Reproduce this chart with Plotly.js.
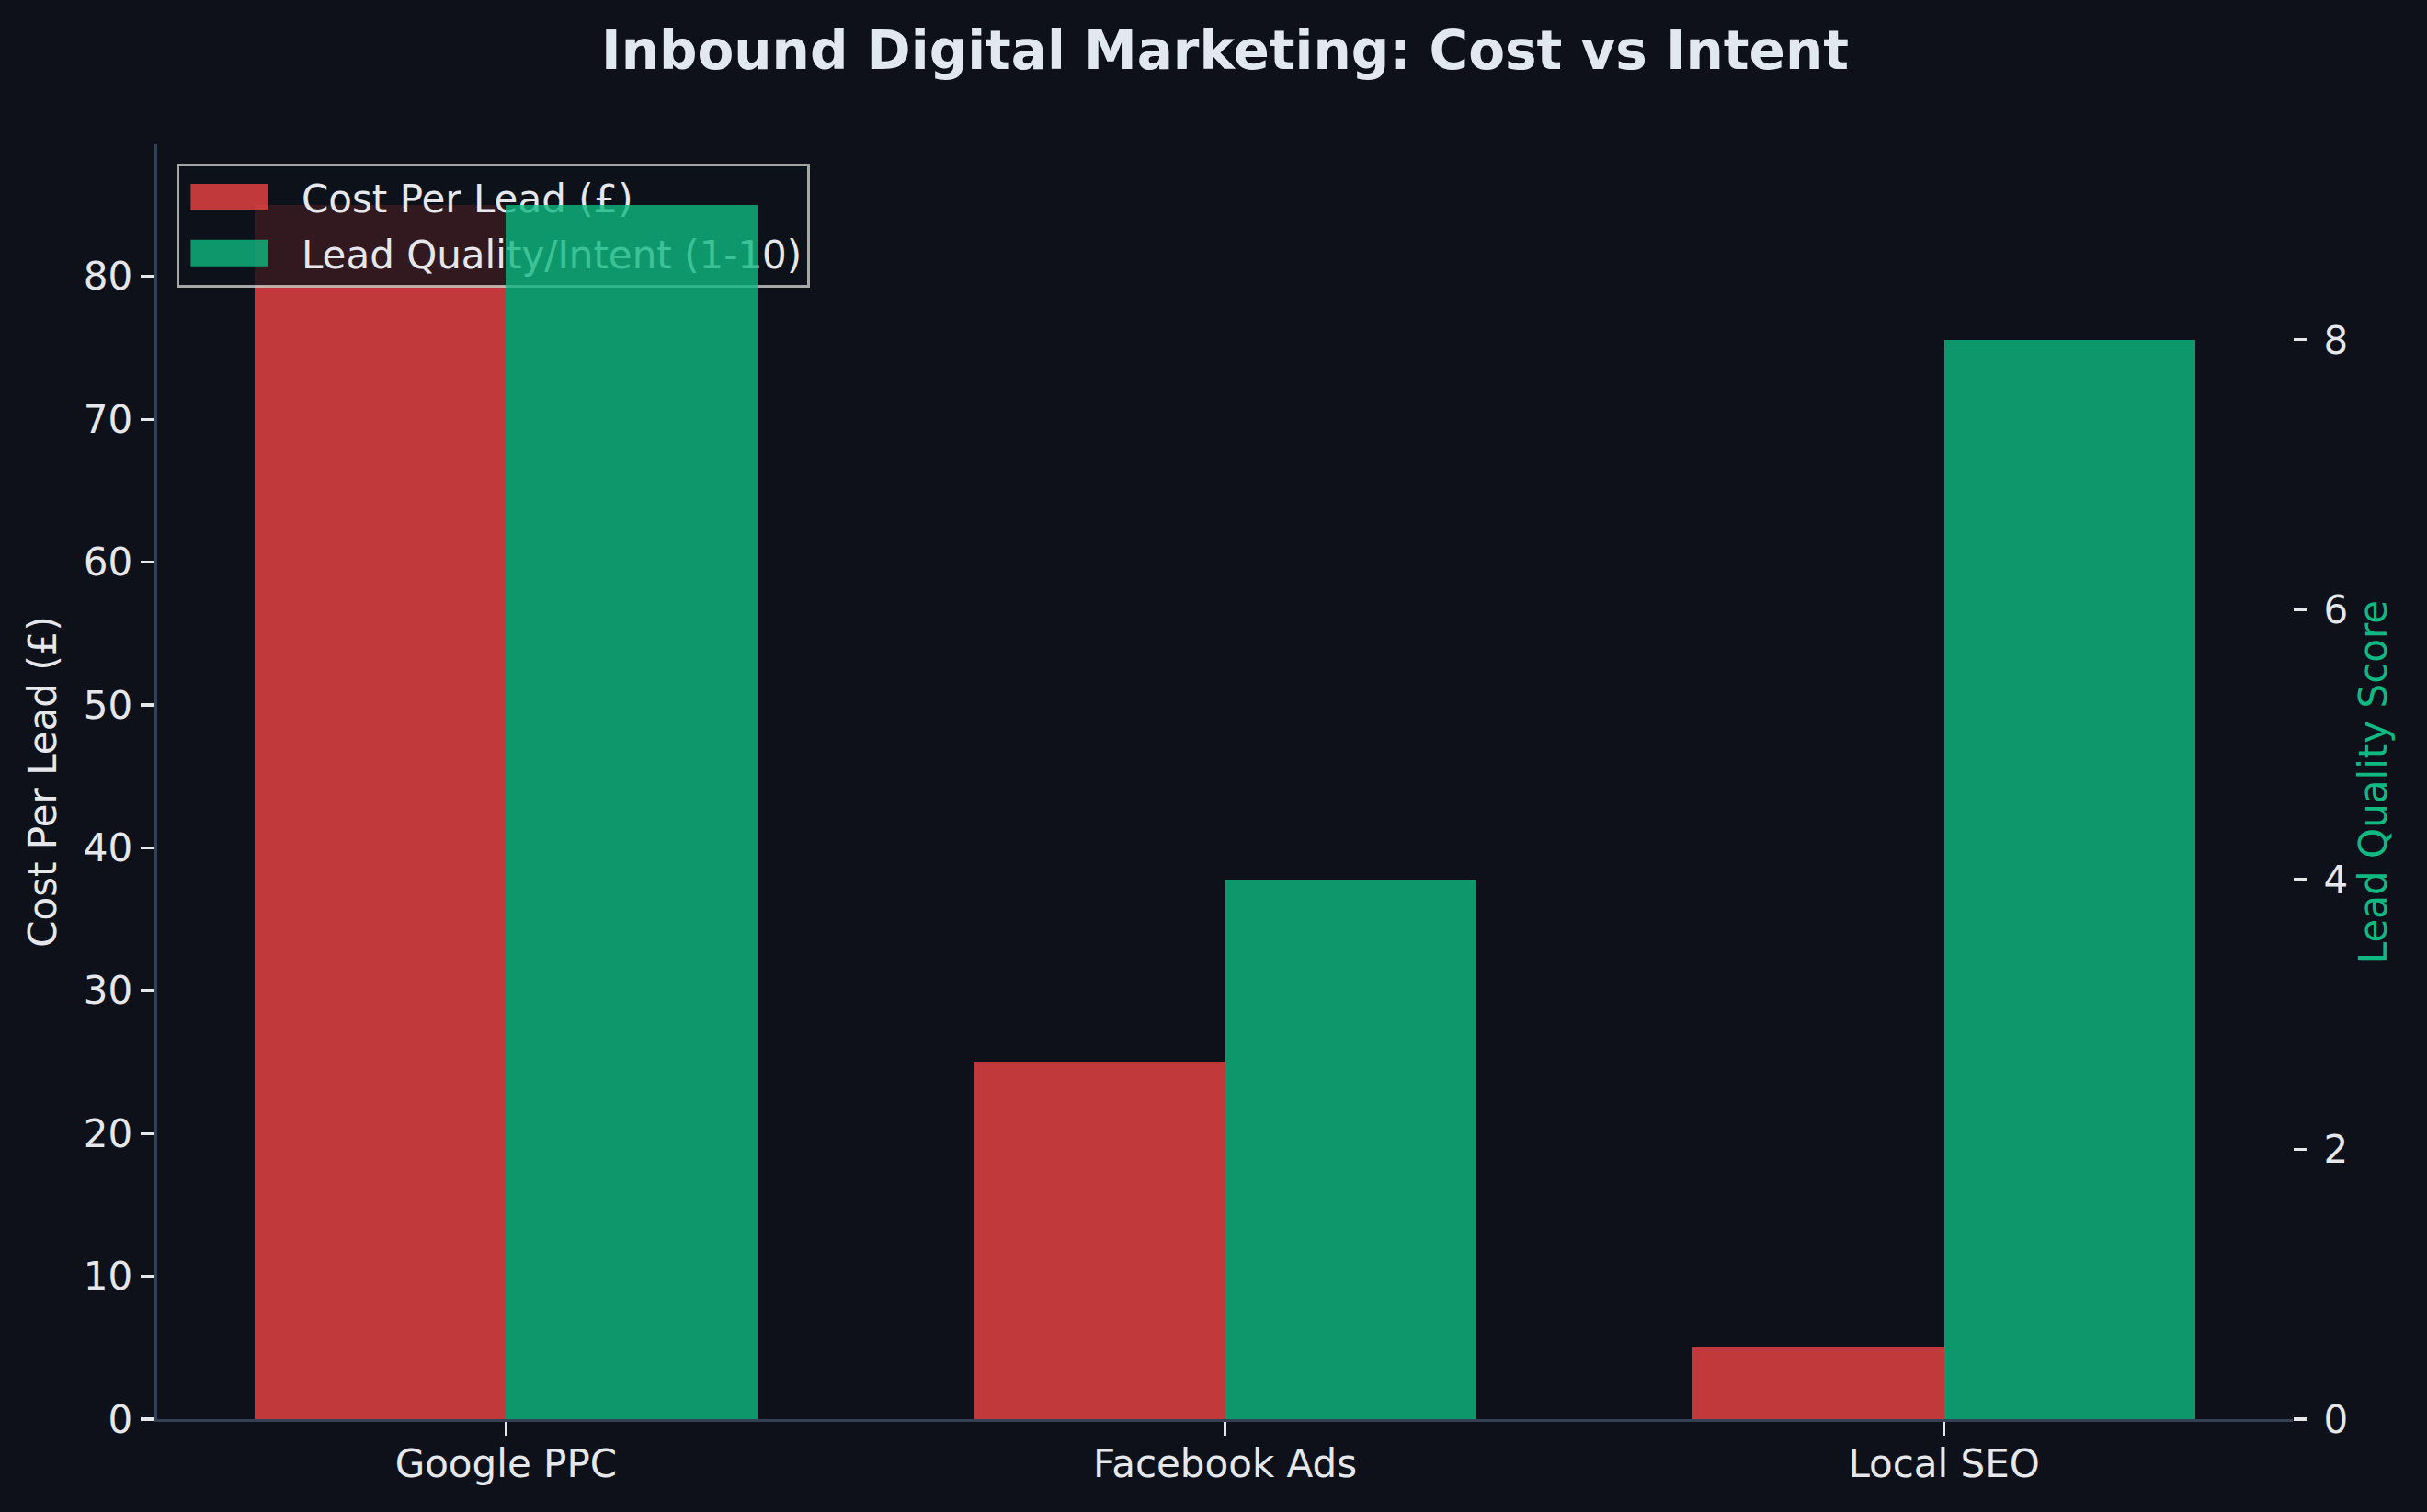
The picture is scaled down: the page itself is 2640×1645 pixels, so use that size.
<!DOCTYPE html>
<html>
<head>
<meta charset="utf-8">
<script src="https://cdn.plot.ly/plotly-3.0.1.min.js"></script>
<style>
  html, body { margin: 0; padding: 0; background: #0e111a; }
  #chart { width: 2640px; height: 1645px; }
</style>
</head>
<body>
<div id="chart"></div>
<script>
const channels = ["Google PPC", "Facebook Ads", "Local SEO"];
const costPerLead = [85, 25, 5];
const leadQuality = [9, 4, 8];
const seriesNames = ["Cost Per Lead (£)", "Lead Quality/Intent (1-10)"];
const leftTicks = [0, 10, 20, 30, 40, 50, 60, 70, 80];
const rightTicks = [0, 2, 4, 6, 8];

const BG = "#0e111a";
const TEXT = "#e5e7eb";
const SPINE = "#334155";
const FONT = "DejaVu Sans";
const FS = 42;

const traces = [
  {
    type: "bar",
    name: seriesNames[0],
    legendgroup: "cost",
    x: channels,
    y: costPerLead,
    width: 0.35,
    offset: -0.35,
    marker: { color: "rgba(239,68,68,0.8)", line: { width: 0 } },
    yaxis: "y",
    hoverinfo: "skip"
  },
  {
    type: "bar",
    name: seriesNames[1],
    legendgroup: "quality",
    x: channels,
    y: leadQuality,
    width: 0.35,
    offset: 0,
    marker: { color: "rgba(16,185,129,0.8)", line: { width: 0 } },
    yaxis: "y2",
    hoverinfo: "skip"
  }
];

const layout = {
  width: 2640,
  height: 1645,
  paper_bgcolor: BG,
  plot_bgcolor: BG,
  font: { family: FONT, size: FS, color: TEXT },
  margin: { l: 171, r: 146, t: 157, b: 101, pad: 0 },
  showlegend: true,
  title: {
    text: "<b>Inbound Digital Marketing: Cost vs Intent</b>",
    font: { family: FONT, size: 58, color: "#e2e8f0" },
    x: 0.5, xref: "paper", xanchor: "center",
    y: 1 - 55 / 1645, yref: "container", yanchor: "middle"
  },
  xaxis: {
    type: "category",
    range: [-0.485, 2.485],
    showgrid: false,
    zeroline: false,
    showline: true,
    linecolor: SPINE,
    linewidth: 3.3,
    ticks: "outside",
    ticklen: 15,
    tickwidth: 3.3,
    tickcolor: TEXT,
    ticklabelstandoff: -6,
    tickfont: { family: FONT, size: FS, color: TEXT },
    fixedrange: true
  },
  yaxis: {
    range: [0, 89.25],
    tickvals: leftTicks,
    showgrid: false,
    zeroline: false,
    showline: true,
    linecolor: SPINE,
    linewidth: 3.3,
    ticks: "outside",
    ticklen: 15,
    tickwidth: 3.3,
    tickcolor: TEXT,
    ticklabelstandoff: 0,
    tickfont: { family: FONT, size: FS, color: TEXT },
    title: { text: "Cost Per Lead (£)", font: { family: FONT, size: FS, color: TEXT }, standoff: 17 },
    automargin: false
  },
  yaxis2: {
    overlaying: "y",
    side: "right",
    range: [0, 9.45],
    tickvals: rightTicks,
    showgrid: false,
    zeroline: false,
    showline: false,
    ticks: "outside",
    ticklen: 15,
    tickwidth: 3.3,
    tickcolor: TEXT,
    ticklabelstandoff: 9,
    tickfont: { family: FONT, size: FS, color: TEXT },
    title: { text: "Lead Quality Score", font: { family: FONT, size: FS, color: "#10b981" }, standoff: 13 },
    automargin: false
  },
  legend: {
    x: 0.009, y: 0.985, xanchor: "left", yanchor: "top",
    bgcolor: "rgba(14,17,26,0.8)",
    bordercolor: "rgba(204,204,204,0.8)",
    borderwidth: 3,
    font: { family: FONT, size: FS, color: TEXT },
    itemwidth: 123,
    traceorder: "grouped",
    tracegroupgap: 3
  },
  bargap: 0
};

Plotly.newPlot("chart", traces, layout, { displayModeBar: false, staticPlot: true }).then(function (gd) {
  // widen the legend swatches to the matplotlib-like patch shape
  gd.querySelectorAll(".legend .legendpoints path").forEach(function (p) {
    p.setAttribute("d", "M-54,-14.5h84v29h-84Z");
  });
  // the legend belongs to the primary axes, so the twin-axis (y2) bars sit above it
  const xy2 = gd.querySelector(".cartesianlayer .overplot .xy2");
  const info = gd.querySelector(".infolayer");
  if (xy2 && info) {
    info.parentNode.insertBefore(xy2, info.nextSibling);
  }
});
</script>
</body>
</html>
